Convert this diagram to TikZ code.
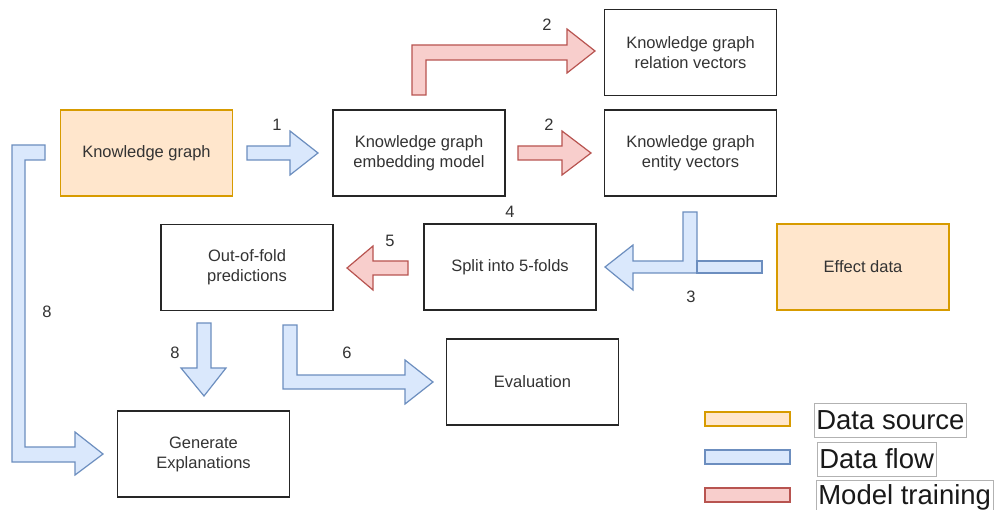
\documentclass[tikz,border=0pt]{standalone}
\usepackage{fontspec}
\setmainfont{Liberation Sans}
\definecolor{bfill}{HTML}{DAE8FC}
\definecolor{bline}{HTML}{6C8EBF}
\definecolor{rfill}{HTML}{F8CECC}
\definecolor{rline}{HTML}{B85450}
\definecolor{ofill}{HTML}{FFE6CC}
\definecolor{oline}{HTML}{D79B00}
\definecolor{txt}{HTML}{333333}
\begin{document}
\begin{tikzpicture}[x=1pt,y=-1pt,
  box/.style={draw=black!85,line width=1.2pt,fill=white,minimum width=172pt,minimum height=86pt,
    align=center,text=txt,font=\fontsize{16.5}{20}\selectfont,inner sep=0pt},
  srcbox/.style={box,draw=oline,fill=ofill},
  blueflow/.style={draw=bline,fill=bfill,line width=1.2pt,line join=miter},
  redflow/.style={draw=rline,fill=rfill,line width=1.2pt,line join=miter},
  num/.style={text=txt,font=\fontsize{16.5}{20}\selectfont,inner sep=0pt},
  legbar/.style={line width=1.5pt},
  legtext/.style={draw=black!30,line width=0.6pt,anchor=west,inner sep=2pt,font=\fontsize{27.5}{30}\selectfont,text=black!90}
]
\useasboundingbox[fill=white] (0,0) rectangle (995,510);

% boxes
\node[srcbox] (kg) at (146.5,153) {Knowledge graph};
\node[box] (emb) at (419,153) {Knowledge graph\\embedding model};
\node[box] (rel) at (690.5,52.5) {Knowledge graph\\relation vectors};
\node[box] (ent) at (690.5,153) {Knowledge graph\\entity vectors};
\node[box] (oof) at (247,267.5) {Out-of-fold\\predictions};
\node[box] (split) at (510,267) {Split into 5-folds};
\node[srcbox] (eff) at (863,267) {Effect data};
\node[box] (eval) at (532.5,382) {Evaluation};
\node[box] (gen) at (203.5,454) {Generate\\Explanations};

% arrow 1
\draw[blueflow] (247,146) -- (290,146) -- (290,131) -- (318,153) -- (290,175) -- (290,160) -- (247,160) -- cycle;
% arrow 2 entity
\draw[redflow] (518,146) -- (562,146) -- (562,131) -- (591,153) -- (562,175) -- (562,160) -- (518,160) -- cycle;
% arrow 2 relation
\draw[redflow] (412,95) -- (412,45) -- (567,45) -- (567,29) -- (595,51) -- (567,73) -- (567,60) -- (426,60) -- (426,95) -- cycle;
% arrow 3
\draw[blueflow] (683,212) -- (697,212) -- (697,273) -- (633,273) -- (633,290) -- (605,267) -- (633,245) -- (633,261) -- (683,261) -- cycle;
\draw[blueflow] (697,261) rectangle (762,273);
% arrow 5
\draw[redflow] (408,261) -- (373,261) -- (373,246) -- (347,268) -- (373,290) -- (373,275) -- (408,275) -- cycle;
% arrow 8 left
\draw[blueflow] (45,145) -- (12,145) -- (12,462) -- (75,462) -- (75,475) -- (103,454) -- (75,432) -- (75,447) -- (25,447) -- (25,160) -- (45,160) -- cycle;
% arrow 8 down
\draw[blueflow] (197,323) -- (211,323) -- (211,368) -- (226,368) -- (204,396) -- (181,368) -- (197,368) -- cycle;
% arrow 6
\draw[blueflow] (283,325) -- (297,325) -- (297,375) -- (405,375) -- (405,360) -- (433,382) -- (405,404) -- (405,389) -- (283,389) -- cycle;

% labels
\node[num] (l1) at (277,125) {1};
\node[num] (l2a) at (549,125) {2};
\node[num] (l2b) at (547,25) {2};
\node[num] (l4) at (510,212) {4};
\node[num] (l5) at (390,241) {5};
\node[num] (l3) at (691,297) {3};
\node[num] (l8a) at (47,312) {8};
\node[num] (l8b) at (175,353) {8};
\node[num] (l6) at (347,353) {6};

% legend
\draw[legbar,draw=oline,fill=ofill] (705,412) rectangle (790,426);
\draw[legbar,draw=bline,fill=bfill] (705,450) rectangle (790,464);
\draw[legbar,draw=rline,fill=rfill] (705,488) rectangle (790,502);
\node[legtext,minimum height=34pt] (ls) at (814,420) {Data source};
\node[legtext,minimum height=34pt] (lf) at (817,459) {Data flow};
\node[legtext,minimum height=34pt] (lm) at (816,497) {Model training};
\end{tikzpicture}
\end{document}
